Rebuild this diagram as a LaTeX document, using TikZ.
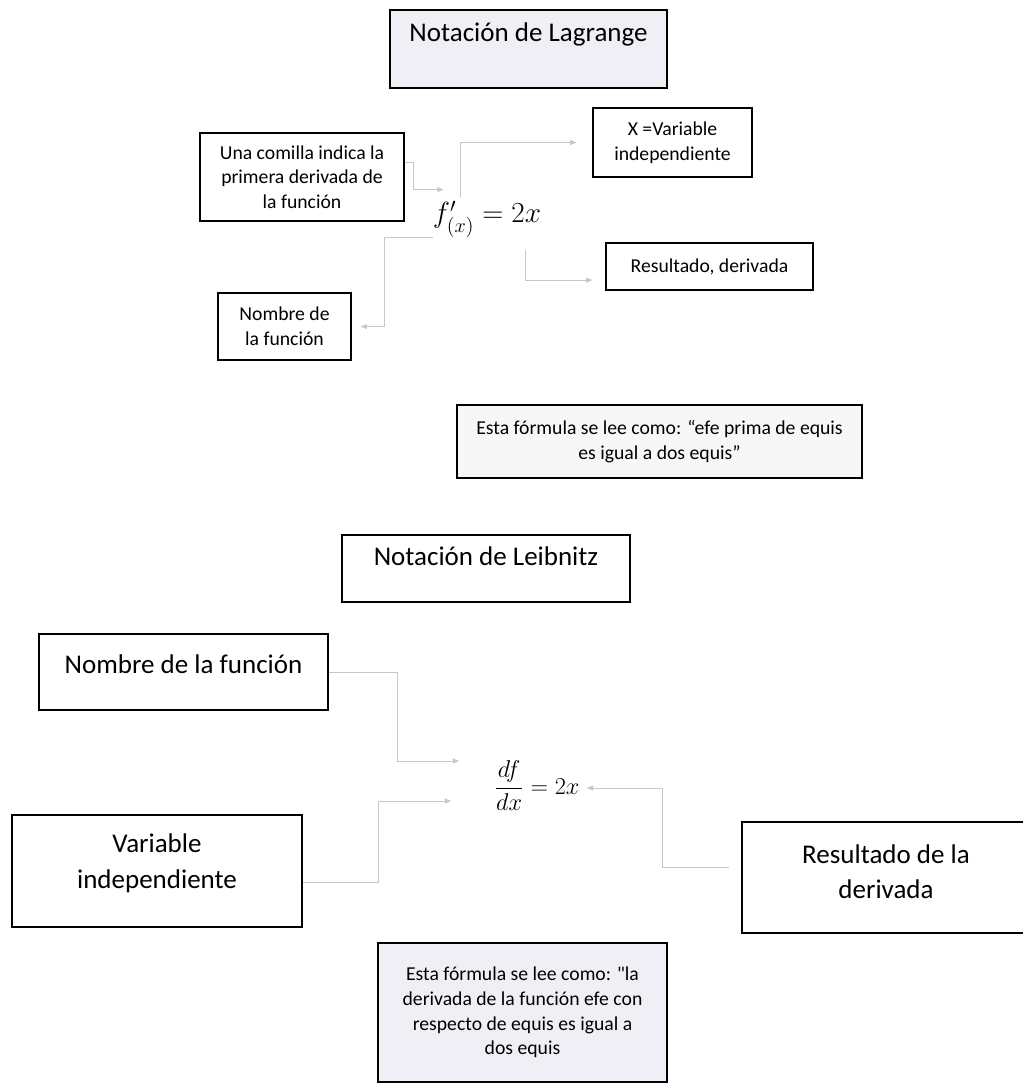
\documentclass[tikz,border=0pt]{standalone}
\usepackage{amsmath}
\usepackage{fontspec}
\setmainfont{Carlito}
\usetikzlibrary{arrows.meta, positioning, calc}
\definecolor{scanlav}{RGB}{241,239,246}
\newcommand{\txtlift}[1]{\rule[-#1]{0pt}{#1}}
\tikzset{
  nt box/.style={
    rectangle, draw=black, line width=0.8pt, fill=white,
    align=center, inner sep=0.5pt,
    font=\fontsize{14}{17.5}\selectfont
  },
  nt big/.style={
    nt box, font=\fontsize{19.2}{25}\selectfont
  },
  nt size/.style 2 args={
    minimum width=#1*0.025cm, minimum height=#2*0.025cm
  },
  nt formula/.style={
    inner sep=0pt
  },
  nt arrow/.style={
    -{Triangle[length=4.5pt, width=3.5pt]}, draw=black!22, line width=0.6pt
  }
}

\begin{document}
\begin{tikzpicture}[x=0.025cm, y=-0.025cm]
  \path[use as bounding box, fill=white] (0,0) rectangle (1022,1089);

  % Lagrange
  \node (lagTitle) [nt big, nt size={277}{78}, fill=scanlav] at (528.5,49) {Notación de Lagrange\txtlift{24pt}};
  \node (fA) [nt formula, font=\fontsize{20}{24}\selectfont] at (487,219) {$f'_{(x)} = 2x$};
  \node (comilla) [nt box, nt size={204}{88}] at (302,177) {Una comilla indica la\\primera derivada de\\la función};
  \node (xvar) [nt box, nt size={159}{69}] at (672.5,142.5) {X =Variable\\independiente};
  \node (resA) [nt box, nt size={207}{47}] at (709.5,266.5) {Resultado, derivada};
  \node (nomA) [nt box, nt size={133}{67}] at (284.5,326.5) {Nombre de\\la función};
  \node (leeA) [nt box, nt size={405}{73}, fill=black!3] at (659.5,441.5) {Esta fórmula se lee como: “efe prima de equis\\es igual a dos equis”};

  \draw [nt arrow] ([yshift=0.375cm]comilla.east) -- ++(9,0) |- ([xshift=0.275cm, yshift=0.275cm]fA.north west);
  \draw [nt arrow] ([xshift=-0.675cm, yshift=0.1cm]fA.north) |- ([xshift=-0.4cm]xvar.west);
  \draw [nt arrow] (fA.south west) -- ++(-48,0) |- ([xshift=0.225cm]nomA.east);
  \draw [nt arrow] ([xshift=0.95cm, yshift=-0.325cm]fA.south) |- ([xshift=-0.325cm, yshift=-0.34cm]resA.west);

  % Leibniz
  \node (leibTitle) [nt big, nt size={288}{67}] at (486,568.5) {Notación de Leibnitz\txtlift{18pt}};
  \node (fB) [nt formula, font=\fontsize{19}{23}\selectfont] at (537,786) {$\dfrac{df}{dx} = 2x$};
  \node (nomB) [nt big, nt size={289}{76}] at (183.5,672) {Nombre de la función\txtlift{11pt}};
  \node (varB) [nt big, nt size={290}{112}] at (157,871) {Variable\\independiente\txtlift{14pt}};
  \node (resB) [nt big, nt size={288}{111}] at (886,877.5) {Resultado de la\\derivada\txtlift{8pt}};
  \node (leeB) [nt box, nt size={289}{139}, fill=scanlav] at (522.5,1012.5) {Esta fórmula se lee como: \textquotedbl la\\derivada de la función efe con\\respecto de equis es igual a\\dos equis};

  \draw [nt arrow] (nomB.east) -- ++(69,0) |- ([xshift=-0.875cm, yshift=0.625cm]fB.west);
  \draw [nt arrow] ([yshift=-0.275cm]varB.east) -- ++(76,0) |- ([xshift=-1.075cm, yshift=-0.375cm]fB.west);
  \draw [nt arrow] ([xshift=-0.3cm, yshift=0.24cm]resB.west) -- ++(-67,0) |- ([xshift=0.175cm, yshift=-0.05cm]fB.east);
\end{tikzpicture}
\end{document}
